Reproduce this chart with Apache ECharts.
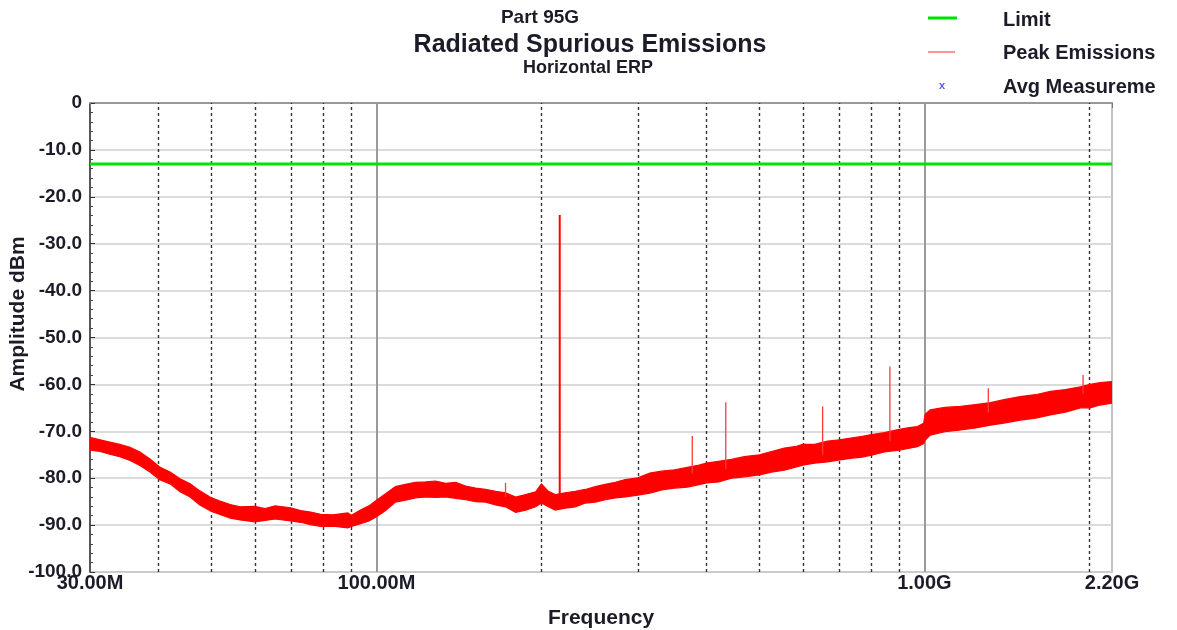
<!DOCTYPE html>
<html>
<head>
<meta charset="utf-8">
<script src="https://cdn.jsdelivr.net/npm/echarts@6/dist/echarts.min.js"></script>
<style>
html,body{margin:0;padding:0;background:#fff;}
#c{width:1177px;height:630px;}
</style>
</head>
<body>
<div id="c"></div>
<script>
// ---- Data (frequency in MHz, amplitude in dBm) ----
const freqMHz = [30,31.3,32.6,34,35.5,37,38.6,40.2,42,43.8,45.7,47.6,50,51.8,54.1,56.4,60,62.6,65.3,69.7,72.7,75.8,79.1,83.3,88.6,90,93.5,96.9,100,
  103.9,108.3,113,117.8,122.9,128.2,133.7,139.5,145.5,151.7,158.2,165,172,179.5,187.2,195.2,200,205.9,212,221,230.6,240.5,250.8,261.6,272.8,284.5,300,
  315.4,331.6,350,369.4,388,400,421,444.5,469,500,526,555,584,600,630,666,700,739,770,801,845,900,939,971,997,
  1003,1025,1090,1165,1240,1320,1405,1497,1595,1698,1809,1927,2007,2093,2200];
const peakLow = [-74.0,-74.3,-74.9,-75.4,-76.2,-77.3,-78.7,-80.3,-81.2,-82.9,-84.0,-85.7,-87.1,-87.7,-88.5,-88.9,-89.3,-89.0,-88.7,-89.1,-89.4,-89.9,-90.3,-90.2,-90.6,-90.3,-89.7,-89.1,-88.2,
  -86.9,-85.1,-84.7,-84.2,-84.0,-84.1,-84.0,-84.3,-84.6,-85.0,-85.1,-85.7,-86.1,-87.3,-86.8,-86.1,-85.3,-86.1,-86.8,-86.4,-86.1,-85.3,-85.1,-84.6,-84.2,-84.0,-83.6,
  -83.2,-82.5,-82.1,-81.9,-81.4,-81.0,-80.8,-80.0,-79.7,-79.3,-78.7,-78.3,-77.6,-77.2,-76.8,-76.5,-76.1,-75.7,-75.5,-75.1,-74.4,-74.0,-73.6,-73.3,-72.6,
  -71.9,-70.8,-70.1,-69.7,-69.3,-68.7,-68.2,-67.6,-67.2,-66.5,-65.9,-65.0,-65.0,-64.4,-64.0];
const peakHigh = [-71.3,-71.8,-72.3,-72.8,-73.4,-74.4,-75.9,-77.6,-78.7,-80.1,-81.2,-82.7,-84.2,-84.9,-85.6,-86.1,-86.0,-86.5,-85.9,-86.3,-86.9,-87.2,-87.7,-87.8,-87.4,-87.9,-86.8,-85.9,-84.7,
  -83.3,-81.8,-81.3,-80.9,-80.8,-80.6,-81.1,-80.9,-81.7,-82.1,-82.4,-82.8,-83.1,-84.0,-83.5,-82.9,-81.2,-82.8,-83.5,-83.1,-82.8,-82.4,-81.8,-81.3,-80.9,-80.3,-79.9,
  -78.9,-78.5,-78.2,-77.7,-77.2,-76.8,-76.4,-76.0,-75.4,-75.0,-74.3,-73.6,-73.2,-72.8,-72.8,-72.1,-71.8,-71.4,-71.1,-70.7,-70.3,-69.6,-69.2,-69.0,-68.3,
  -66.4,-65.4,-64.9,-64.7,-64.3,-63.9,-63.2,-62.6,-62.2,-61.5,-61.1,-60.5,-60.0,-59.6,-59.4];
const spikeFreqMHz = [172, 216, 377, 434, 652, 865, 1308, 1948];
const spikeTop = [-81.0, -23.9, -71.0, -63.8, -64.7, -56.2, -60.8, -58.0];
const spikeBase = [-84.0, -85.0, -79.0, -78.0, -75.0, -72.0, -66.0, -62.0];
const limitDbm = -13;
const freqMin = 30, freqMax = 2200;
const dashedGridMHz = [40,50,60,70,80,90,200,300,400,500,600,700,800,900,2000];
const solidGridMHz = [100,1000];

const FONT = '"Liberation Sans", Arial, sans-serif';
const TXT = '#1c1c28';

const chart = echarts.init(document.getElementById('c'), null, {renderer:'canvas'});

const bandData = freqMHz.map((f,i)=>[f, peakLow[i], peakHigh[i]]);

const spikeSeries = spikeFreqMHz.map((f,i)=>({
  type:'line', name:'spike'+i, symbol:'none', silent:true, z:6,
  data:[[f, spikeBase[i]],[f, spikeTop[i]]],
  lineStyle:{color: i===1 ? '#ff0000' : '#ff3a3a', width: i===1 ? 2 : 1.3}
}));

const gridMarks = [];
dashedGridMHz.forEach(f=>gridMarks.push({xAxis:f, lineStyle:{type:[3,3], color:'#333', width:1.4}}));
solidGridMHz.forEach(f=>gridMarks.push({xAxis:f, lineStyle:{type:'solid', color:'#9a9a9a', width:2}}));

function fmtFreq(v){
  if (v >= 999) return (v/1000).toFixed(2)+'G';
  return v.toFixed(2)+'M';
}

function renderBand(params, api){
  if (params.dataIndex !== 0) return null;
  const top = [], bot = [];
  for (let i=0;i<bandData.length;i++){
    top.push(api.coord([bandData[i][0], bandData[i][2]]));
    bot.push(api.coord([bandData[i][0], bandData[i][1]]));
  }
  const pts = top.concat(bot.reverse());
  return {type:'polygon', shape:{points:pts}, style:{fill:'#ff0000', stroke:'#ff0000', lineWidth:1.2}};
}

const option = {
  backgroundColor:'#fff',
  animation:false,
  grid:{left:90, right:65, top:103, bottom:58, show:true, borderColor:'#b0b0b0', borderWidth:1.5,
    containLabel:false, outerBoundsMode:'none'},
  xAxis:{
    type:'log', logBase:10, min:freqMin, max:freqMax,
    name:'Frequency', nameLocation:'middle', nameGap:36,
    nameTextStyle:{fontFamily:FONT, fontWeight:'bold', fontSize:21, color:TXT},
    axisLine:{show:true, lineStyle:{color:'#999', width:2}},
    axisTick:{show:true, length:5, lineStyle:{color:'#777'}},
    splitLine:{show:false},
    minorTick:{show:false},
    axisLabel:{show:true, fontFamily:FONT, fontWeight:'bold', fontSize:20, color:TXT, margin:1,
      showMinLabel:true, showMaxLabel:true, formatter:fmtFreq}
  },
  yAxis:{
    type:'value', min:-100, max:0, interval:10,
    axisLine:{show:true, lineStyle:{color:'#333', width:1.5}},
    axisTick:{show:true, inside:true, length:5, lineStyle:{color:'#333'}},
    minorTick:{show:true, splitNumber:5, length:3, lineStyle:{color:'#444'}},
    splitLine:{show:true, lineStyle:{color:'#cfcfcf', width:1.5}},
    axisLabel:{fontFamily:FONT, fontWeight:'bold', fontSize:19, color:TXT, margin:8,
      formatter:v=> v===0 ? '0' : v.toFixed(1)}
  },
  graphic:[
    {type:'text', x:540, y:18, style:{text:'Part 95G', fontFamily:FONT, fontWeight:'bold', fontSize:19, fill:TXT, align:'center', verticalAlign:'middle'}},
    {type:'text', x:590, y:45, style:{text:'Radiated Spurious Emissions', fontFamily:FONT, fontWeight:'bold', fontSize:25, fill:TXT, align:'center', verticalAlign:'middle'}},
    {type:'text', x:588, y:68, style:{text:'Horizontal ERP', fontFamily:FONT, fontWeight:'bold', fontSize:18, fill:TXT, align:'center', verticalAlign:'middle'}},
    {type:'text', x:18, y:314, rotation:Math.PI/2, style:{text:'Amplitude dBm', fontFamily:FONT, fontWeight:'bold', fontSize:21, fill:TXT, align:'center', verticalAlign:'middle'}},
    {type:'line', shape:{x1:928, y1:18, x2:957, y2:18}, style:{stroke:'#00e000', lineWidth:3}},
    {type:'text', x:1003, y:20, style:{text:'Limit', fontFamily:FONT, fontWeight:'bold', fontSize:20, fill:TXT, verticalAlign:'middle'}},
    {type:'line', shape:{x1:928, y1:52, x2:955, y2:52}, style:{stroke:'#ff7070', lineWidth:1.5}},
    {type:'text', x:1003, y:53, style:{text:'Peak Emissions', fontFamily:FONT, fontWeight:'bold', fontSize:20, fill:TXT, verticalAlign:'middle'}},
    {type:'text', x:942, y:86, style:{text:'x', fontFamily:FONT, fontWeight:'bold', fontSize:11, fill:'#5a5aff', align:'center', verticalAlign:'middle'}},
    {type:'text', x:1003, y:87, style:{text:'Avg Measureme', fontFamily:FONT, fontWeight:'bold', fontSize:20, fill:TXT, verticalAlign:'middle'}}
  ],
  series:[
    {type:'line', name:'grid', data:[], silent:true, z:1,
      markLine:{silent:true, symbol:'none', label:{show:false}, animation:false, data:gridMarks}},
    {type:'custom', name:'Peak Emissions', data:bandData, silent:true, z:5,
      encode:{x:0, y:[1,2]}, renderItem:renderBand, clip:true},
    ...spikeSeries,
    {type:'line', name:'Limit', data:[[freqMin, limitDbm],[freqMax, limitDbm]], symbol:'none', silent:true, z:7,
      lineStyle:{color:'#00e400', width:3}}
  ]
};
chart.setOption(option);
</script>
</body>
</html>
